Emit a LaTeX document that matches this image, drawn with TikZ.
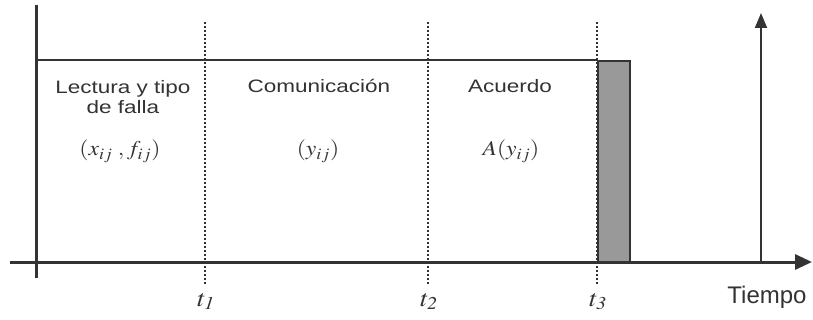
\documentclass[tikz,border=0pt]{standalone}
\usepackage{mathptmx}
\usepackage{fontspec}
\setmainfont{Liberation Sans}
\usepackage{graphicx}
\usetikzlibrary{arrows.meta}
\DeclareMathSizes{21}{21}{16}{12}
\DeclareMathSizes{24}{24}{18}{14}
\definecolor{ink}{HTML}{333333}
\definecolor{bar}{HTML}{999999}
\newcommand{\hwide}[1]{\scalebox{1.25}[1]{#1}}
\newcommand{\mwide}[1]{\scalebox{1.12}[1]{#1}}
\tikzset{
  axis/.style={draw=ink, line width=3pt},
  topline/.style={draw=ink, line width=2pt},
  guide/.style={draw=ink, line width=1.3pt, dash pattern=on 1.6pt off 2.4pt},
  lbl/.style={text=ink, inner sep=0pt, font=\fontsize{18}{20}\selectfont, align=center},
  mth/.style={text=ink, inner sep=0pt, font=\fontsize{21}{23}\selectfont},
  tlbl/.style={text=ink, inner sep=0pt, font=\fontsize{24}{26}\selectfont, anchor=base},
}
\begin{document}
\begin{tikzpicture}[x=1pt,y=-1pt]
\useasboundingbox (0,0) rectangle (813,320);
% coordinates
\coordinate (ltop) at (36,5);
\coordinate (lbot) at (36,278);
\coordinate (hs) at (10,262);
\coordinate (he) at (812,262);
\coordinate (tl) at (36,60);
\coordinate (t3top) at (597,60);
\coordinate (d1a) at (205,22); \coordinate (d1b) at (205,284);
\coordinate (d2a) at (428,22); \coordinate (d2b) at (428,284);
\coordinate (d3a) at (597,22); \coordinate (d3b) at (597,284);
\coordinate (rb) at (761,262);
\coordinate (rt) at (761,13);
% guides
\draw[guide] (d1a) -- (d1b);
\draw[guide] (d2a) -- (d2b);
\draw[guide] (d3a) -- (d3b);
% grey bar
\node[draw=ink, line width=2pt, fill=bar, minimum width=32pt, minimum height=202pt, inner sep=0pt, anchor=north west] (barbox) at (597,60) {};
% top line
\draw[topline] (tl) -- (t3top);
% axes
\draw[axis] (ltop) -- (lbot);
\draw[axis, -{Triangle[length=17pt,width=15pt]}] (hs) -- (he);
\draw[draw=ink, line width=1.8pt, -{Triangle[length=15pt,width=12pt]}] (rb) -- (rt);
% texts
\node[lbl, anchor=north] (lect) at (123,80.5) {\hwide{Lectura y tipo}\\\hwide{de falla}};
\node[lbl, anchor=base] (com) at (319,93) {\hwide{Comunicación}};
\node[lbl, anchor=base] (acu) at (510,93) {\hwide{Acuerdo}};
\node[mth, anchor=base] (m1) at (120,156) {\mwide{$(x_{ij}\;, f_{ij})$}};
\node[mth, anchor=base] (m2) at (318,156) {\mwide{$(y_{ij})$}};
\node[mth, anchor=base] (m3) at (511,156) {\mwide{$A(y_{ij})$}};
\node[tlbl] (t1) at (206,306) {\mwide{$t_{\mathit{1}}$}};
\node[tlbl] (t2) at (429,306) {\mwide{$t_{\mathit{2}}$}};
\node[tlbl] (t3) at (598,306) {\mwide{$t_{\mathit{3}}$}};
\node[text=ink, inner sep=0pt, font=\fontsize{24}{26}\selectfont, anchor=base] (tiempo) at (767,303) {Tiempo};
\end{tikzpicture}
\end{document}
